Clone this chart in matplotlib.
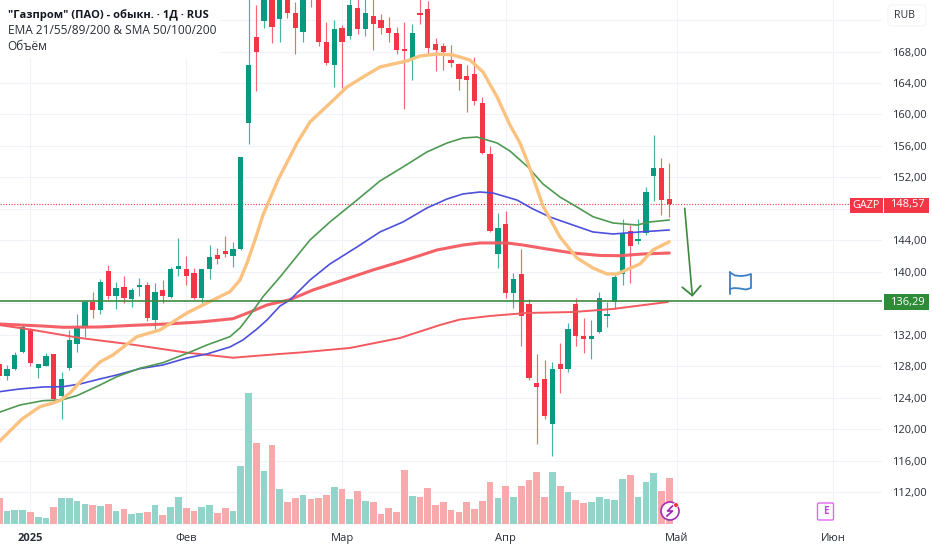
import matplotlib
matplotlib.use("Agg")
import matplotlib.pyplot as plt
from matplotlib.patches import Rectangle, FancyBboxPatch, Circle
import numpy as np

plt.rcParams['font.family'] = ['Open Sans', 'DejaVu Sans']

GREEN, RED = '#089981', '#f23645'
TEXT = '#2a2e39'

# daily candles (open, high, low, close), RUB
opens = [128.3,126.75,127.6,129.8,132.72,127.76,128.06,129.55,124.24,127.77,130.85,132.89,136.2,135.14,140.1,136.92,138.06,136.54,138.1,138.36,133.87,137.68,136.83,140.39,140.35,139.88,136.66,140.35,142.13,142.6,142.04,142.86,158.95,169.88,171.92,174.9,172.13,175.0,172.94,170.44,176.0,175.5,169.25,166.29,170.99,169.97,173.49,170.86,172.55,172.0,171.03,170.39,168.28,167.05,172.86,173.4,168.96,168.7,166.92,166.41,164.89,165.14,161.49,154.93,142.26,146.03,137.34,139.68,135.9,125.82,126.41,120.61,128.27,127.6,135.9,131.87,131.41,132.3,134.41,136.19,139.68,145.18,143.91,144.89,152.21,153.23,149.25]
highs = [128.78,128.15,129.84,133.23,132.8,128.3,129.7,129.6,127.26,132.6,134.63,136.4,137.43,139.08,140.86,138.7,139.46,137.94,139.2,138.7,138.57,138.95,140.6,144.29,142.0,140.48,140.4,143.4,143.02,144.55,143.82,154.6,175.2,173.91,176.0,176.0,176.0,176.0,174.33,176.0,177.0,176.0,171.79,172.0,171.37,175.0,175.0,175.0,175.0,172.77,172.43,171.15,171.72,171.46,175.0,174.42,169.68,169.08,168.83,166.58,166.29,167.26,162.26,156.03,147.43,147.73,139.8,142.86,136.54,129.51,128.78,128.49,130.9,133.45,136.66,134.16,133.87,137.39,136.19,139.88,146.67,145.95,146.67,150.74,157.39,154.42,153.87]
lows = [126.24,126.24,127.5,129.7,128.0,126.5,128.0,123.7,121.3,127.5,129.8,131.7,134.12,134.63,136.54,135.27,136.03,135.52,136.92,133.74,132.72,136.03,136.66,139.46,138.32,136.54,136.03,139.08,140.99,141.91,140.64,142.77,156.24,163.02,171.03,169.05,169.17,172.22,167.65,169.17,173.7,168.74,166.29,163.53,163.32,169.55,170.23,170.01,168.19,170.19,169.17,167.65,160.65,164.38,171.46,167.65,165.56,165.65,166.07,163.1,160.27,161.2,154.93,145.09,140.52,136.63,135.36,130.6,126.24,118.07,121.24,116.58,124.55,127.3,130.56,129.63,128.91,132.2,133.02,135.27,138.32,138.53,143.49,144.67,148.99,147.2,147.0]
closes = [126.8,127.64,129.46,132.98,128.4,128.27,129.33,123.83,126.41,131.33,132.89,136.2,135.14,138.7,136.92,137.94,136.66,137.68,138.36,134.12,137.43,136.92,140.35,140.73,139.46,136.66,140.35,141.88,141.66,142.26,142.9,154.55,166.29,167.98,174.9,171.08,175.2,172.94,170.99,175.0,174.7,169.17,166.58,170.86,169.17,173.91,170.86,172.94,171.46,170.99,170.32,168.19,168.03,170.39,172.64,168.41,168.19,167.98,166.5,164.47,164.34,161.71,155.14,145.22,145.56,137.34,139.08,134.38,126.53,125.39,121.7,127.64,127.6,132.72,131.87,131.41,131.87,136.63,134.63,139.37,144.8,143.28,144.2,150.18,153.23,149.12,148.57]

# traded volume, arbitrary units
volumes = [25.7,13.3,14,14,11.7,6.7,6,17,25.7,25.7,22.7,19.7,18.7,18,20,13.3,15,9.7,11.3,12,19.3,9,17,26.7,15.7,13.3,17,18.7,10.7,16.3,12.7,58,131.3,80.7,53,79,35,21.7,25.7,29,25.3,26,29,36.7,35,25.3,33,22.7,21.7,9.7,15.7,12,53.7,27.7,27,36,19.3,21.7,14,12,21.7,15,23,42.3,26,38.5,26.7,37.7,44.3,52.3,27.3,52.3,37.7,31.7,24.3,20.7,21.7,27.3,24.7,23.7,45.3,49,26.7,42.3,51,33.3,46]

# moving averages, read at bar positions
ema_orange_i = [0,2.93,5.24,7.03,7.93,9.09,11.01,12.94,14.6,17.68,20.64,24.1,26.15,29.62,30.9,31.8,32.83,33.86,35.78,38.2,39.89,42.45,44.64,46.69,48.87,50.54,52.34,54,56.19,58.24,60.42,62.09,63.9,65.55,66.84,67.86,69.79,71.97,74.15,76.2,78,79.3,82.24,83.9,86]
ema_orange_v = [118.4,121.28,122.85,123.35,123.7,124.59,126.66,128.53,129.42,131.75,132.6,134.76,135.78,137.47,138.95,141.11,144.04,147.22,151.67,156.33,159.04,161.42,163.49,164.76,166.03,166.41,166.8,167.43,167.68,167.56,166.92,165.4,162.22,158.66,156.37,153.83,148.36,144.42,141.75,140.48,139.72,139.72,140.99,142.77,143.82]
ema_green_i = [0,2.67,5.62,8.02,9.98,12.94,15.1,18.07,21.02,24.1,26.67,29.62,30.9,32.19,33.86,36.04,39.89,42.45,45.92,48.87,51.82,54.9,57.47,59.52,61.32,63.9,65.55,67.86,69.79,71.97,74.15,76.2,78.77,81.85,83.52,86]
ema_green_v = [122.13,123.06,123.61,123.7,124.25,125.6,126.66,127.73,128.44,129.63,130.69,131.75,132.85,134.5,136.83,139.33,144.04,146.33,149.12,151.54,153.32,155.23,156.37,157,157.13,156.37,155.35,153.32,151.16,149.5,148.23,147,146.2,145.94,146.33,146.58]
ema_blue_i = [0,2.67,5.62,8.19,10.37,12.94,15.1,18.07,21.02,24.1,26.67,29.62,31.29,33.08,34.37,36.04,37.32,39.89,42.45,45.92,48.87,51.82,54.9,57.47,59.52,61.7,63.37,65.55,66.45,68.5,70.69,73.25,76.2,78.77,82.24,86]
ema_blue_v = [124.75,125.1,125.35,125.39,125.73,126.37,126.88,127.68,128.15,129.04,129.55,130.44,131.33,132.72,133.87,135.65,136.41,138.95,140.99,143.15,145.06,146.33,148.11,149.25,149.89,150.14,150.01,149.38,149.12,147.98,146.96,146.07,145.06,144.8,145.06,145.31]
sma_thick_i = [0,2.67,5.62,8.19,12.94,17.17,21.54,25.77,30,32.19,34.37,36.04,37.32,40.27,44.12,47.97,51.82,56.19,59.52,61.7,65.17,67.22,70.3,73.64,77.1,79.67,82.62,86]
sma_thick_v = [133.36,133.23,133.1,132.94,132.98,133.19,133.36,133.61,134.03,134.88,135.78,136.16,136.45,137.68,138.95,140.23,141.37,142.77,143.4,143.66,143.66,143.4,142.89,142.38,142.07,142.04,142.26,142.38]
sma_thin_i = [0,4.34,10.37,16.79,24.1,30,36.04,38.6,45.02,51.44,56.57,59.14,62.99,67.73,73.64,78.77,85.83]
sma_thin_v = [133.23,132.6,131.58,130.78,129.71,129.07,129.55,129.73,130.31,131.58,133.23,133.93,134.38,134.76,134.88,135.27,136.16]

last_price = 148.57
level_price = 136.29
price_ticks = [112,116,120,124,128,132,136,140,144,148,152,156,160,164,168,172]
hidden_price_labels = [136,148,172]
month_pos = [4,24,44,65,87,107]
month_labels = ['2025','Фев','Мар','Апр','Май','Июн']

W, H = 932, 550
fig = plt.figure(figsize=(W/100, H/100), dpi=100, facecolor='white')
rect = [0, (H-524)/H, 882/W, 524/H]
ax = fig.add_axes(rect)
ax.set_xlim(0.103, 113.3)
ax.set_ylim(107.93, 174.55)

for s in ax.spines.values():
    s.set_visible(False)
ax.yaxis.tick_right()
ax.set_yticks(price_ticks)
ax.set_yticklabels(['' if p in hidden_price_labels else f'{p},00' for p in price_ticks],
                   fontsize=8, color=TEXT)
ax.set_xticks(month_pos)
ax.set_xticklabels(month_labels, fontsize=8, color=TEXT)
ax.get_xticklabels()[0].set_fontweight('bold')
ax.tick_params(axis='y', length=0, pad=7)
ax.tick_params(axis='x', length=0, pad=6.5)
ax.grid(True, color='#f0f3fa', lw=0.8)
ax.set_axisbelow(True)

x = np.arange(len(opens))
o, h, l, c = map(np.array, (opens, highs, lows, closes))
up = c >= o
ccol = np.where(up, GREEN, RED)
ax.vlines(x, l, h, colors=ccol, lw=0.85, alpha=0.75, zorder=2)
ax.bar(x, np.maximum(np.abs(c-o), 0.1), bottom=np.minimum(o, c), width=0.68,
       color=ccol, linewidth=0, zorder=3)

ax.axhline(last_price, color=RED, lw=0.8, ls=(0, (1, 1.5)), zorder=1.5)
lk = dict(solid_capstyle='round', solid_joinstyle='round')
ax.plot(sma_thin_i, sma_thin_v, color='#f4595f', lw=1.4, zorder=4, **lk)
ax.plot(sma_thick_i, sma_thick_v, color='#f4595f', lw=2.2, zorder=4, alpha=0.95, **lk)
ax.plot(ema_blue_i, ema_blue_v, color='#4d50dc', lw=1.2, zorder=4.2, **lk)
ax.plot(ema_green_i, ema_green_v, color='#4f9a52', lw=1.2, zorder=4.2, **lk)
ax.plot(ema_orange_i, ema_orange_v, color='#fbc27f', lw=2.4, zorder=4.4, **lk)
ax.axhline(level_price, color='#3d8b40', lw=1.2, zorder=5)

vax = fig.add_axes(rect, sharex=ax)
vax.patch.set_alpha(0)
vax.set_ylim(0, 524)
vax.axis('off')
vcol = np.where(up, '#92d3ca', '#f8a9ab')
vax.bar(x, volumes, width=0.86, color=vcol, linewidth=0)

# overlay in pixel coordinates for labels and drawings
ov = fig.add_axes([0, 0, 1, 1])
ov.set_xlim(0, W)
ov.set_ylim(H, 0)
ov.axis('off')
ov.patch.set_alpha(0)

ov.add_patch(Rectangle((0, 0), 220, 58, fc='white', ec='none'))
ov.text(7.5, 15.5, '"Газпром" (ПАО) - обыкн. · 1Д · RUS', fontsize=8.05, fontweight='bold', color='#131722', va='center')
ov.text(7.5, 31, 'EMA 21/55/89/200 & SMA 50/100/200', fontsize=8.6, color=TEXT, va='center')
ov.text(7.5, 47, 'Объём', fontsize=8.6, color=TEXT, va='center')

# currency button
ov.add_patch(FancyBboxPatch((888, 5), 38, 21, boxstyle='round,pad=0,rounding_size=4',
                            fc='white', ec='#f4f5f8', lw=0.8))
ov.text(904.5, 15.5, 'RUB', fontsize=7.6, color=TEXT, ha='center', va='center')

# price labels
ov.add_patch(Rectangle((849.5, 197.5), 33.5, 15.5, fc=RED, ec='none'))
ov.text(866, 205, 'GAZP', fontsize=7.8, color='white', ha='center', va='center')
ov.add_patch(Rectangle((884, 197.5), 45, 15.5, fc=RED, ec='none'))
ov.text(907, 205, '148,57', fontsize=8, color='white', ha='center', va='center')
ov.add_patch(Rectangle((884, 294), 45, 16, fc='#2e8b37', ec='none'))
ov.text(907, 302, '136,29', fontsize=8, color='white', ha='center', va='center')

# arrow
ac = '#3b8a3f'
ov.plot([684.7, 692.3], [208.3, 295.5], color=ac, lw=1.2, solid_capstyle='round')
ov.plot([682.3, 692.3, 700.7], [287.3, 295.5, 285.7], color=ac, lw=1.3, solid_capstyle='round', solid_joinstyle='round')

# flag
fc = '#3a80c6'
ov.plot([730, 730], [272, 294], color=fc, lw=1.3, solid_capstyle='round')
ov.plot([730, 735, 741, 746, 751, 751, 746, 740, 734, 730],
        [272.5, 275.5, 276, 275.5, 274, 288, 289.5, 288.5, 288, 289], color=fc, lw=1.3, solid_joinstyle='round')

# lightning icon
ov.add_patch(Circle((670, 511), 9, fc='white', ec='#9c27b0', lw=1.2, alpha=0.95, zorder=5))
ov.plot([672.5, 667.5, 672.5, 667], [506, 511, 511, 516], color='#9c27b0', lw=1.2, zorder=6)
ov.add_patch(Circle((676, 505), 2.4, fc='#f23645', ec='white', lw=0.5, zorder=7))

# earnings icon
ov.add_patch(FancyBboxPatch((817.5, 503), 16, 17, boxstyle='round,pad=0,rounding_size=1.5',
                            fc='white', ec='#e566f5', lw=1.0))
ov.text(825.5, 511.5, 'E', fontsize=7.2, fontweight='bold', color='#c04cd8', ha='center', va='center')

fig.savefig('out.png', dpi=100)
